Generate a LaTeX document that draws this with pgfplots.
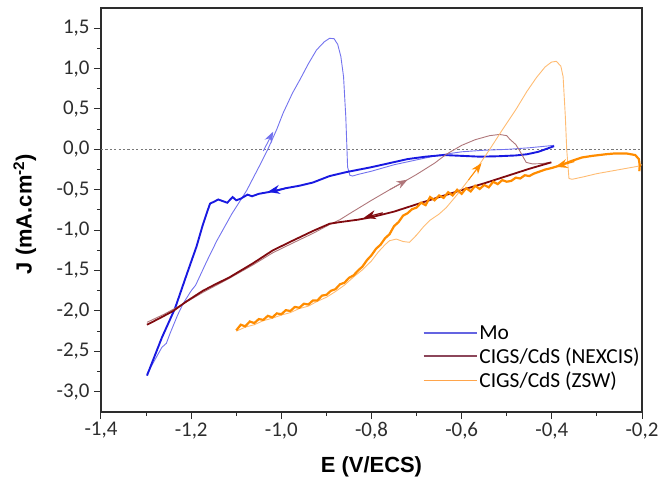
\documentclass[border=0pt]{standalone}
\usepackage{fontspec}
\setmainfont{Carlito}
\newfontfamily\labelfont{Liberation Sans}
\usepackage{pgfplots}
\pgfplotsset{compat=1.18}
\usetikzlibrary{arrows.meta}
\definecolor{mothick}{RGB}{25,25,225}
\definecolor{mothin}{RGB}{115,115,238}
\definecolor{brthick}{RGB}{128,10,15}
\definecolor{brthin}{RGB}{175,118,122}
\definecolor{orthick}{RGB}{255,140,0}
\definecolor{orthin}{RGB}{255,188,115}
\definecolor{axgray}{RGB}{45,45,45}
\definecolor{zerogray}{RGB}{120,120,120}
\definecolor{legmo}{RGB}{100,100,225}
\definecolor{legbr}{RGB}{140,70,90}
\definecolor{legor}{RGB}{255,165,75}
\begin{document}
\begin{tikzpicture}
\begin{axis}[
  scale only axis, width=541bp, height=404bp,
  xmin=-1.4, xmax=-0.2, ymin=-3.25, ymax=1.75,
  axis line style={axgray, line width=1.1bp},
  tick style={axgray, line width=1bp},
  tick align=outside, tick pos=left,
  major tick length=7bp, minor tick length=4bp,
  xtick={-1.4,-1.2,-1.0,-0.8,-0.6,-0.4,-0.2},
  xticklabels={{-1,4},{-1,2},{-1,0},{-0,8},{-0,6},{-0,4},{-0,2}},
  ytick={-3,-2.5,-2,-1.5,-1,-0.5,0,0.5,1,1.5},
  yticklabels={{-3,0},{-2,5},{-2,0},{-1,5},{-1,0},{-0,5},{0,0},{0,5},{1,0},{1,5}},
  minor x tick num=1, minor y tick num=1,
  ticklabel style={font=\fontsize{21}{24}\selectfont, text=axgray},
  yticklabel style={xshift=-1bp},
  xlabel={E (V/ECS)}, ylabel={J (mA.cm\textsuperscript{-2})},
  xlabel style={font=\labelfont\bfseries\fontsize{22}{25}\selectfont, at={(axis description cs:0.5,-0.136)}, anchor=center},
  ylabel style={font=\labelfont\bfseries\fontsize{22}{25}\selectfont, at={(axis description cs:-0.141,0.49)}, anchor=center, rotate=0},
  legend style={at={(0.595,0.225)}, anchor=north west, draw=none, fill=none,
    font=\fontsize{21.5}{24}\selectfont, row sep=3bp, inner xsep=0bp,
    legend cell align=left},
  legend image code/.code={\draw (0bp,0bp) -- (53bp,0bp);},
]
% zero line
\addplot[forget plot, zerogray, line width=0.9bp, dash pattern=on 2.2bp off 2.2bp] coordinates {(-1.4,0) (-0.2,0)};

% Mo forward (thin)
\addplot[forget plot, mothin, line width=0.9bp] coordinates {
(-1.298,-2.78) (-1.28,-2.60) (-1.265,-2.45) (-1.255,-2.40) (-1.247,-2.28) (-1.23,-2.05) (-1.218,-1.91)
(-1.20,-1.75) (-1.19,-1.68) (-1.185,-1.62) (-1.165,-1.38) (-1.143,-1.13) (-1.11,-0.80) (-1.077,-0.51)
(-1.05,-0.22) (-1.03,0.0) (-1.01,0.25) (-0.996,0.45) (-0.975,0.70) (-0.959,0.86) (-0.94,1.06)
(-0.922,1.23) (-0.905,1.33) (-0.893,1.375) (-0.883,1.37) (-0.875,1.30) (-0.868,1.15) (-0.862,0.90)
(-0.857,0.40) (-0.853,-0.22) (-0.848,-0.32) (-0.842,-0.33) (-0.83,-0.31) (-0.80,-0.27) (-0.75,-0.19)
(-0.70,-0.13) (-0.65,-0.07) (-0.60,-0.03) (-0.55,-0.01) (-0.50,0.0) (-0.45,0.02) (-0.395,0.05)
};
% Mo reverse (thick)
\addplot[forget plot, mothick, line width=1.9bp] coordinates {
(-0.395,0.04) (-0.41,0.01) (-0.43,-0.03) (-0.455,-0.06) (-0.48,-0.075) (-0.52,-0.085) (-0.56,-0.09)
(-0.60,-0.08) (-0.64,-0.07) (-0.68,-0.09) (-0.72,-0.12) (-0.76,-0.17) (-0.80,-0.22) (-0.855,-0.28)
(-0.893,-0.33) (-0.93,-0.41) (-0.96,-0.45) (-0.99,-0.48) (-1.01,-0.51) (-1.03,-0.53) (-1.05,-0.55)
(-1.065,-0.58) (-1.075,-0.56) (-1.09,-0.61) (-1.10,-0.63) (-1.108,-0.59) (-1.12,-0.66) (-1.13,-0.64)
(-1.14,-0.62) (-1.15,-0.65) (-1.158,-0.67) (-1.165,-0.78) (-1.175,-0.95) (-1.188,-1.2) (-1.21,-1.55)
(-1.236,-1.97) (-1.265,-2.33) (-1.298,-2.8)
};

% NEXCIS forward (thin)
\addplot[forget plot, brthin, line width=0.9bp] coordinates {
(-1.298,-2.14) (-1.26,-2.04) (-1.22,-1.92) (-1.174,-1.77) (-1.12,-1.61) (-1.063,-1.43) (-1.019,-1.28)
(-0.975,-1.16) (-0.93,-1.04) (-0.893,-0.93) (-0.87,-0.87) (-0.85,-0.80) (-0.80,-0.63) (-0.76,-0.50)
(-0.731,-0.41) (-0.70,-0.31) (-0.66,-0.17) (-0.634,-0.06) (-0.60,0.05) (-0.57,0.12) (-0.538,0.17)
(-0.516,0.185) (-0.50,0.17) (-0.494,0.13) (-0.48,0.06) (-0.472,-0.01) (-0.463,-0.10) (-0.457,-0.16)
(-0.443,-0.18) (-0.42,-0.175) (-0.405,-0.16)
};
% NEXCIS reverse (thick)
\addplot[forget plot, brthick, line width=1.8bp] coordinates {
(-0.401,-0.16) (-0.45,-0.24) (-0.50,-0.33) (-0.55,-0.42) (-0.598,-0.50) (-0.65,-0.59) (-0.70,-0.68)
(-0.75,-0.77) (-0.80,-0.84) (-0.83,-0.87) (-0.87,-0.90) (-0.893,-0.92) (-0.93,-1.01) (-0.975,-1.13)
(-1.019,-1.25) (-1.063,-1.41) (-1.114,-1.58) (-1.15,-1.68) (-1.174,-1.75) (-1.21,-1.88) (-1.24,-2.0)
(-1.27,-2.09) (-1.298,-2.17)
};

% ZSW forward (thin)
\addplot[forget plot, orthin, line width=0.9bp] coordinates {
(-1.10,-2.25) (-1.08,-2.20) (-1.06,-2.17) (-1.04,-2.12) (-1.02,-2.09) (-1.00,-2.05) (-0.98,-2.02)
(-0.96,-1.97) (-0.94,-1.94) (-0.92,-1.88) (-0.90,-1.83) (-0.88,-1.76) (-0.86,-1.68) (-0.84,-1.58)
(-0.82,-1.49) (-0.80,-1.38) (-0.785,-1.27) (-0.77,-1.18) (-0.76,-1.13) (-0.745,-1.11) (-0.73,-1.14)
(-0.716,-1.15) (-0.70,-1.06) (-0.685,-0.96) (-0.671,-0.88) (-0.65,-0.80) (-0.634,-0.72) (-0.61,-0.56)
(-0.585,-0.38) (-0.567,-0.24) (-0.539,-0.01) (-0.51,0.24) (-0.479,0.50) (-0.455,0.72) (-0.434,0.89)
(-0.415,1.02) (-0.401,1.08) (-0.39,1.09) (-0.38,1.03) (-0.375,0.90) (-0.37,0.40) (-0.367,0.0)
(-0.362,-0.36) (-0.355,-0.37) (-0.33,-0.34) (-0.30,-0.30) (-0.27,-0.27) (-0.24,-0.24) (-0.21,-0.21)
(-0.20,-0.19)
};
% ZSW reverse (thick, noisy)
\addplot[forget plot, orthick, line width=2.2bp] coordinates {
(-0.206,-0.27) (-0.205,-0.20) (-0.207,-0.12) (-0.215,-0.07) (-0.235,-0.05) (-0.26,-0.05) (-0.28,-0.06)
(-0.31,-0.08) (-0.333,-0.10) (-0.355,-0.14) (-0.377,-0.19) (-0.40,-0.23) (-0.415,-0.25) (-0.43,-0.28)
(-0.44,-0.30) (-0.45,-0.33) (-0.46,-0.32) (-0.47,-0.36) (-0.48,-0.35) (-0.49,-0.39) (-0.50,-0.40)
(-0.51,-0.38) (-0.52,-0.43) (-0.53,-0.40) (-0.54,-0.47) (-0.55,-0.44) (-0.56,-0.49) (-0.57,-0.45)
(-0.58,-0.52) (-0.59,-0.48) (-0.60,-0.55) (-0.61,-0.50) (-0.62,-0.57) (-0.63,-0.53) (-0.64,-0.60)
(-0.65,-0.57) (-0.66,-0.63) (-0.67,-0.59) (-0.68,-0.69) (-0.69,-0.66) (-0.70,-0.72) (-0.71,-0.74)
(-0.72,-0.79) (-0.73,-0.82) (-0.74,-0.90) (-0.75,-0.95) (-0.76,-1.05) (-0.77,-1.10) (-0.78,-1.18)
(-0.79,-1.23) (-0.80,-1.31) (-0.81,-1.37) (-0.82,-1.45) (-0.83,-1.50) (-0.84,-1.56) (-0.85,-1.59)
(-0.86,-1.65) (-0.87,-1.67) (-0.88,-1.73) (-0.89,-1.75) (-0.90,-1.80) (-0.91,-1.81) (-0.92,-1.87)
(-0.93,-1.87) (-0.94,-1.92) (-0.95,-1.91) (-0.96,-1.96) (-0.97,-1.95) (-0.98,-2.00) (-0.99,-1.99)
(-1.00,-2.04) (-1.01,-2.03) (-1.02,-2.08) (-1.03,-2.06) (-1.04,-2.11) (-1.05,-2.10) (-1.06,-2.15)
(-1.07,-2.13) (-1.08,-2.19) (-1.09,-2.17) (-1.10,-2.24)
};

% direction arrows
\addplot[forget plot, mothin, line width=0.9bp, -{Stealth[length=11bp,width=8bp]}] coordinates {(-1.04,-0.02) (-1.018,0.22)};
\addplot[forget plot, mothick, line width=1.2bp, -{Stealth[length=12bp,width=9bp]}] coordinates {(-0.99,-0.48) (-1.03,-0.525)};
\addplot[forget plot, brthin, line width=0.9bp, -{Stealth[length=11bp,width=8bp]}] coordinates {(-0.76,-0.50) (-0.72,-0.375)};
\addplot[forget plot, brthick, line width=1.2bp, -{Stealth[length=12bp,width=9bp]}] coordinates {(-0.775,-0.785) (-0.817,-0.845)};
\addplot[forget plot, orthick, line width=0.9bp, -{Stealth[length=11bp,width=8bp]}] coordinates {(-0.585,-0.38) (-0.556,-0.17)};
\addplot[forget plot, orthick, line width=1.2bp, -{Stealth[length=12bp,width=9bp]}] coordinates {(-0.35,-0.15) (-0.392,-0.215)};

% legend
\addlegendimage{legmo, line width=1.3bp}
\addlegendentry{Mo}
\addlegendimage{legbr, line width=1.3bp}
\addlegendentry{CIGS/CdS (NEXCIS)}
\addlegendimage{legor, line width=1.3bp}
\addlegendentry{CIGS/CdS (ZSW)}
\end{axis}
\pgfresetboundingbox
\path ([shift={(-101bp,-74bp)}]current axis.south west) rectangle ([shift={(17bp,8bp)}]current axis.north east);
\end{tikzpicture}
\end{document}
